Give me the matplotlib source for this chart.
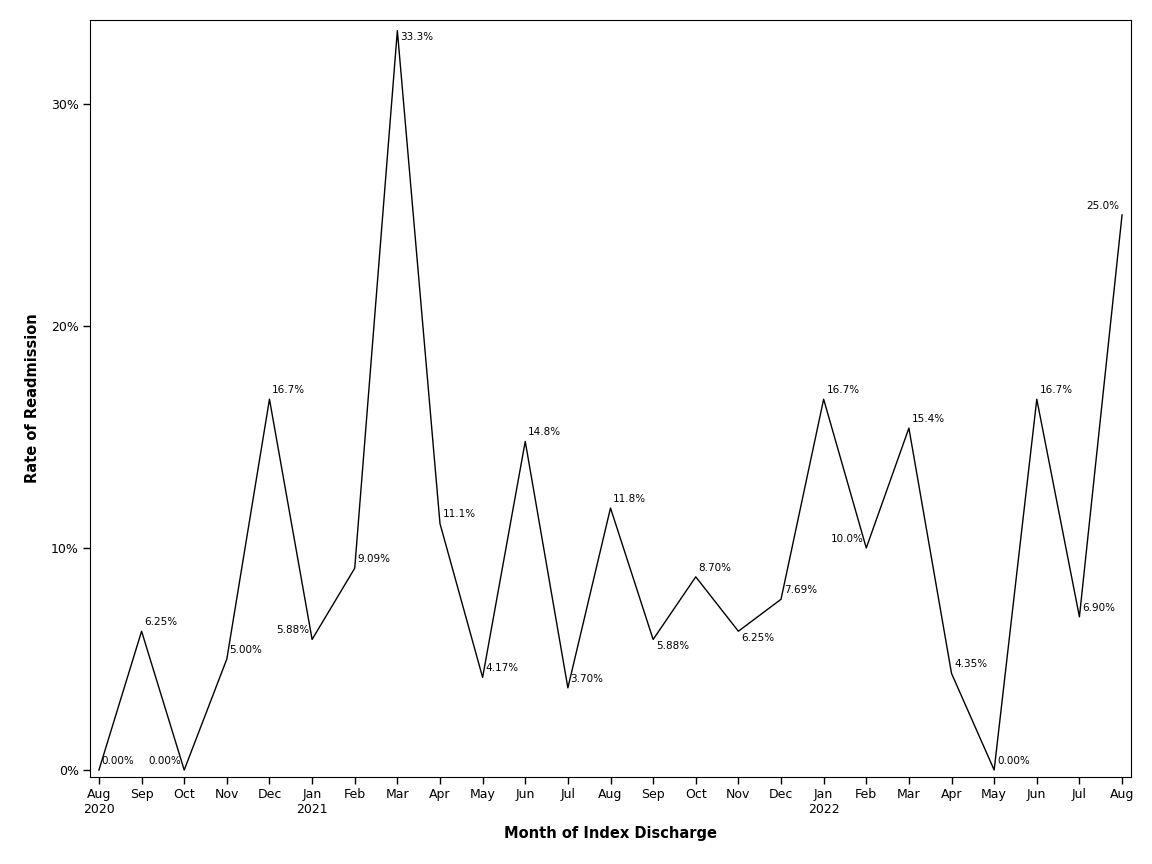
import matplotlib
matplotlib.use('Agg')
import matplotlib.pyplot as plt
import numpy as np

months = ['Aug', 'Sep', 'Oct', 'Nov', 'Dec', 'Jan', 'Feb', 'Mar', 'Apr', 'May', 'Jun', 'Jul',
          'Aug', 'Sep', 'Oct', 'Nov', 'Dec', 'Jan', 'Feb', 'Mar', 'Apr', 'May', 'Jun', 'Jul', 'Aug']
years = {0: '2020', 5: '2021', 17: '2022'}
rates = [0.0, 6.25, 0.0, 5.00, 16.7, 5.88, 9.09, 33.3, 11.1, 4.17, 14.8, 3.70,
         11.8, 5.88, 8.70, 6.25, 7.69, 16.7, 10.0, 15.4, 4.35, 0.0, 16.7, 6.90, 25.0]
labels = ['0.00%', '6.25%', '0.00%', '5.00%', '16.7%', '5.88%', '9.09%', '33.3%', '11.1%', '4.17%',
          '14.8%', '3.70%', '11.8%', '5.88%', '8.70%', '6.25%', '7.69%', '16.7%', '10.0%', '15.4%',
          '4.35%', '0.00%', '16.7%', '6.90%', '25.0%']
# label placement: ur = upper right, ul = upper left, lr = lower right
place = ['ur', 'ur', 'ul', 'ur', 'ur', 'ul', 'ur', 'lr', 'ur', 'ur', 'ur', 'ur',
         'ur', 'lr', 'ur', 'lr', 'ur', 'ur', 'ul', 'ur', 'ur', 'ur', 'ur', 'ur', 'ul']


def main():
    plt.rcParams['font.family'] = 'DejaVu Sans'
    fig = plt.figure(figsize=(11.52, 8.64), dpi=100)
    ax = fig.add_axes([90 / 1152, 1 - 777 / 864, (1131 - 90) / 1152, (777 - 20) / 864])

    x = np.arange(len(rates))
    ax.plot(x, rates, color='black', linewidth=1)

    for xi, yi, lab, p in zip(x, rates, labels, place):
        if p == 'ur':
            ax.annotate(lab, (xi, yi), xytext=(2, 3), textcoords='offset points',
                        ha='left', va='bottom', fontsize=7.5)
        elif p == 'ul':
            ax.annotate(lab, (xi, yi), xytext=(-2, 3), textcoords='offset points',
                        ha='right', va='bottom', fontsize=7.5)
        else:
            ax.annotate(lab, (xi, yi), xytext=(2, -1), textcoords='offset points',
                        ha='left', va='top', fontsize=7.5)

    ax.set_xlim(-0.21, 24.21)
    ax.set_ylim(-0.315, 33.78)
    ax.set_yticks([0, 10, 20, 30])
    ax.set_yticklabels(['0%', '10%', '20%', '30%'])
    ticklabels = [m + ('\n' + years[i] if i in years else '') for i, m in enumerate(months)]
    ax.set_xticks(x)
    ax.set_xticklabels(ticklabels)
    ax.tick_params(direction='out', length=5, width=1, labelsize=9, pad=3)

    ax.set_xlabel('Month of Index Discharge', fontsize=10.5, fontweight='bold', labelpad=7)
    ax.set_ylabel('Rate of Readmission', fontsize=10.5, fontweight='bold', labelpad=8)

    fig.savefig('out.png', dpi=100)


if __name__ == '__main__':
    main()
